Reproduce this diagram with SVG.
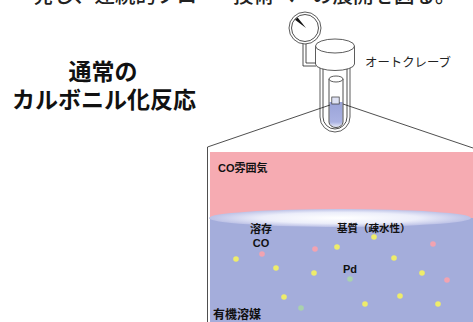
<svg xmlns="http://www.w3.org/2000/svg" width="473" height="322" viewBox="0 0 473 322">
  <defs>
    <style>
      .jp { font-family: "Noto Sans CJK JP", "Noto Sans", sans-serif; }
      .lbl { font-family: "Liberation Sans", "Noto Sans CJK JP", sans-serif; font-weight: 700; fill: #111; }
      .ln { fill: none; stroke: #222; stroke-width: 0.8; }
      .ln-w { fill: #fff; stroke: #333; stroke-width: 0.8; }
      .dot-y { fill: #eeec6a; }
      .dot-p { fill: #f2a3b1; }
      .dot-g { fill: #a9d1ad; }
    </style>
    <radialGradient id="surface" cx="0.5" cy="0.5" r="0.5">
      <stop offset="0" stop-color="#ffffff"/>
      <stop offset="0.6" stop-color="#eceefa"/>
      <stop offset="1" stop-color="#bcc1e6"/>
    </radialGradient>
    <linearGradient id="liquid" x1="0" y1="0" x2="0" y2="1">
      <stop offset="0" stop-color="#9aa3d8"/>
      <stop offset="0.8" stop-color="#aab2e2"/>
      <stop offset="1" stop-color="#e4e7f7"/>
    </linearGradient>
  </defs>

  <rect width="473" height="322" fill="#ffffff"/>

  <!-- running sentence, clipped by the top edge -->
  <g id="header-text">
    <text class="jp" y="3" font-size="20.5" font-weight="500" fill="#222"><tspan x="33">発し、連続的フロー</tspan><tspan x="233">技術へ</tspan><tspan x="312">の展開を図る。</tspan></text>
  </g>

  <!-- heading -->
  <g id="title">
    <text class="jp" x="103" y="80" font-size="23" font-weight="700" text-anchor="middle" fill="#111">通常の</text>
    <text class="jp" x="104" y="108" font-size="23" font-weight="700" text-anchor="middle" fill="#111">カルボニル化反応</text>
  </g>

  <!-- autoclave -->
  <g id="autoclave">
    <!-- pressure gauge pipe -->
    <path class="ln" d="M303,43 V66 H316"/>
    <path class="ln" d="M306,43 V63 H316"/>
    <!-- gauge -->
    <circle class="ln-w" cx="305" cy="28" r="16"/>
    <circle class="ln" cx="305" cy="28" r="13.5"/>
    <polygon points="295,19.8 297.6,17.6 306,28" fill="#111"/>
    <!-- vessel walls -->
    <path class="ln-w" d="M320,64 V117 A15,15 0 0 0 350,117 V64"/>
    <path class="ln" d="M323,66 V117 A12,12 0 0 0 347,117 V66"/>
    <!-- head -->
    <path class="ln-w" d="M315.5,46 V64 A19.5,6.5 0 0 0 354.5,64 V46"/>
    <ellipse class="ln-w" cx="335" cy="46" rx="19.5" ry="7"/>
    <!-- test tube with liquid -->
    <path d="M329.5,102 V122 A6.5,5 0 0 0 342.5,122 V102 Z" fill="url(#liquid)"/>
    <rect x="331.8" y="97" width="7.4" height="7" fill="#dfe2f4" stroke="#333" stroke-width="0.7"/>
    <path class="ln" d="M329,79 V122 A7,5.5 0 0 0 343,122 V79"/>
    <ellipse class="ln-w" cx="336" cy="79" rx="7" ry="3"/>
    <text class="jp" x="365" y="67" font-size="12.4" fill="#222">オートクレーブ</text>
  </g>

  <!-- magnification lines -->
  <g id="connectors">
    <path class="ln" d="M207.5,147 L330,105"/>
    <path class="ln" d="M343,104 L473,148"/>
    <path class="ln" d="M207.5,147 V322"/>
  </g>

  <!-- close-up of the reaction mixture -->
  <g id="close-up">
    <g id="gas-phase">
      <rect x="210" y="152" width="263" height="70" fill="#f6abb2"/>
      <text class="lbl" x="218" y="172" font-size="11">CO雰囲気</text>
    </g>
    <g id="liquid-phase">
      <rect x="210" y="218" width="263" height="104" fill="#a4addb"/>
      <ellipse cx="340" cy="218" rx="131" ry="9" fill="url(#surface)"/>
      <text class="lbl" x="261" y="233" font-size="11" text-anchor="middle">溶存</text>
      <text class="lbl" x="261" y="247" font-size="11" text-anchor="middle">CO</text>
      <text class="lbl" x="337" y="232" font-size="10.5">基質（疎水性）</text>
      <text class="lbl" x="343" y="273" font-size="11">Pd</text>
      <text class="lbl" x="213" y="319" font-size="12">有機溶媒</text>
    </g>
    <g id="particles">
      <circle class="dot-y" cx="374" cy="237" r="2.8"/>
      <circle class="dot-y" cx="337" cy="247" r="2.8"/>
      <circle class="dot-y" cx="236" cy="259" r="2.8"/>
      <circle class="dot-y" cx="394" cy="258" r="2.8"/>
      <circle class="dot-y" cx="276" cy="268" r="2.8"/>
      <circle class="dot-y" cx="314" cy="273" r="2.8"/>
      <circle class="dot-y" cx="422" cy="273" r="2.8"/>
      <circle class="dot-y" cx="284" cy="297" r="2.8"/>
      <circle class="dot-y" cx="400" cy="296" r="2.8"/>
      <circle class="dot-y" cx="365" cy="304" r="2.8"/>
      <circle class="dot-y" cx="438" cy="304" r="2.8"/>
      <circle class="dot-p" cx="262" cy="254" r="2.8"/>
      <circle class="dot-p" cx="315" cy="249" r="2.8"/>
      <circle class="dot-p" cx="433" cy="244" r="2.8"/>
      <circle class="dot-p" cx="447" cy="280" r="2.8"/>
      <circle class="dot-g" cx="350" cy="279" r="2.8"/>
      <circle class="dot-g" cx="301" cy="308" r="2.8"/>
    </g>
  </g>
</svg>
